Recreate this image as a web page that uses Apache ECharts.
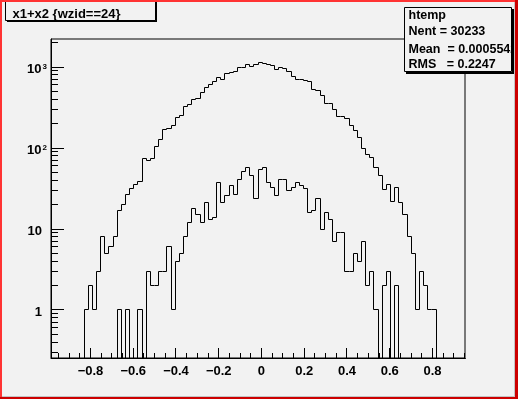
<!DOCTYPE html>
<html><head><meta charset="utf-8">
<script src="https://cdn.jsdelivr.net/npm/echarts@6/dist/echarts.min.js"></script>
<style>html,body{margin:0;padding:0;background:#f2f2f2;overflow:hidden}#c{width:518px;height:399px}</style>
</head><body><div id="c"></div>
<script>
// ---- data (100 bins) ----
const binCountsAll = [
  0,0,0,0,0,0,0,0,1,2,
  1,3,8,5,6,8,17,20,27,32,
  35,39,74,71,75,103,129,167,175,187,
  235,255,321,340,392,414,478,566,600,665,
  745,711,820,844,868,1000,1000,1078,1010,1069,
  1142,1099,1069,1038,927,1000,953,868,774,711,
  711,678,659,525,506,439,359,359,295,248,
  248,230,187,164,133,100,84,77,58,46,
  31,35,22,33,21,15,8,5,1,3,
  2,1,1,0,0,0,0,0,0,0
];
const binCountsWz = [
  0,0,0,0,0,0,0,0,0,0,
  0,0,0,0,0,0,1,0,1,0,
  0,1,0,3,2,2,3,3,6,1,
  4,5,8,12,18,15,12,21,13,14,
  38,21,26,34,27,41,51,57,46,24,
  54,57,38,33,26,41,41,30,33,38,
  34,32,16,17,24,10,16,13,7,9,
  9,3,3,5,4,7,2,3,1,0,
  2,3,0,2,0,0,0,0,0,0,
  0,0,0,0,0,0,0,0,0,0
];
const xTickMajor = [-0.8,-0.6,-0.4,-0.2,0,0.2,0.4,0.6,0.8];
const xTickMinor = [-0.95,-0.9,-0.85,-0.75,-0.7,-0.65,-0.55,-0.5,-0.45,-0.35,-0.3,-0.25,-0.15,-0.1,-0.05,
                    0.05,0.1,0.15,0.25,0.3,0.35,0.45,0.5,0.55,0.65,0.7,0.75,0.85,0.9,0.95];
const yTickMajor = [1,10,100,1000];
const yTickMinor = [0.3,0.4,0.5,0.6,0.7,0.8,0.9,2,3,4,5,6,7,8,9,20,30,40,50,60,70,80,90,
                    200,300,400,500,600,700,800,900,2000];
const titleText = 'x1+x2 {wzid==24}';
const statsTitle = 'htemp';
const statsLines = ['Nent = 30233', 'Mean  = 0.0005542', 'RMS   = 0.2247'];
const X_MIN = -0.9846, X_MAX = 0.9522, NBINS = 100;
const Y_MIN = 0.2555, Y_MAX = 2217;

// ---- styling ----
const FONT = '"Liberation Sans", Arial, Helvetica, sans-serif';
const BG = '#f2f2f2';
function snap(v){ return Math.floor(v) + 0.5; }

function histSeries(counts){
  const w = (X_MAX - X_MIN) / NBINS;
  const data = counts.map((c, i) => [
    X_MIN + i * w,
    Math.max(c, Y_MIN),
    Math.max(i > 0 ? counts[i - 1] : 0, Y_MIN),
    X_MIN + (i + 1) * w,
    i === counts.length - 1 ? 1 : 0
  ]);
  return {
    type: 'custom', coordinateSystem: 'cartesian2d', silent: true, clip: false, z: 3,
    data: data,
    renderItem: function(params, api){
      const l = api.coord([api.value(0), api.value(1)]);
      const r = api.coord([api.value(3), api.value(1)]);
      const pv = api.coord([api.value(0), api.value(2)]);
      const pts = [[snap(l[0]), snap(pv[1])], [snap(l[0]), snap(l[1])], [snap(r[0]), snap(l[1])]];
      if (api.value(4)) {
        const b = api.coord([api.value(3), Y_MIN]);
        pts.push([snap(r[0]), snap(b[1])]);
      }
      return {type: 'polyline', shape: {points: pts}, style: {stroke: '#000', fill: 'none', lineWidth: 1}};
    }
  };
}

function tickSeries(values, isX, len){
  const data = values.map(v => isX ? [v, Y_MIN] : [X_MIN, v]);
  return {
    type: 'custom', coordinateSystem: 'cartesian2d', silent: true, clip: false, z: 4,
    data: data,
    renderItem: function(params, api){
      const p = api.coord([api.value(0), api.value(1)]);
      let shape;
      if (isX) {
        const x = snap(p[0]), y = Math.round(p[1]);
        shape = {x1: x, y1: y, x2: x, y2: y - len};
      } else {
        const x = Math.round(p[0]), y = snap(p[1]);
        shape = {x1: x, y1: y, x2: x + len, y2: y};
      }
      return {type: 'line', shape: shape, style: {stroke: '#000', lineWidth: 1}};
    }
  };
}

function fmtX(v){
  if (Math.abs(v) < 1e-9) return '0';
  return (v < 0 ? '\u2212' : '') + Math.abs(v).toFixed(1);
}
function fmtY(v){
  const e = Math.round(Math.log10(v));
  if (e >= 2) return '10{s|' + e + '}';
  return (e === 1 ? '10' : '1') + '{sp| }';
}

function txt(x, y, text, size, z){
  return {type: 'text', z: z, silent: true, x: x, y: y,
    style: {text: text, fill: '#000', font: 'bold ' + size + 'px ' + FONT,
            align: 'left', verticalAlign: 'middle', textAlign: 'left', textVerticalAlign: 'middle'}};
}
function box(x, y, w, h, style, z){
  return {type: 'rect', z: z, silent: true, shape: {x: x, y: y, width: w, height: h}, style: style};
}

const graphics = [
  // title box
  box(7, -2, 150, 24, {fill: '#000'}, 100),
  box(5.5, -2.5, 150, 23, {fill: BG, stroke: '#000', lineWidth: 1}, 101),
  txt(12.5, 14, titleText, 13, 102),
  // stats box
  box(404.5, 7.5, 107, 64, {fill: BG}, 100),
  txt(408.5, 15.5, statsTitle, 12.5, 102),
  txt(408.5, 31.8, statsLines[0], 12.5, 102),
  txt(408.5, 49.2, statsLines[1], 12.5, 102),
  txt(408.5, 64.2, statsLines[2], 12.5, 102),
  box(512, 9, 2, 65, {fill: '#000'}, 103),
  box(406, 72, 108, 2, {fill: '#000'}, 103),
  box(404.5, 7.5, 107, 64, {fill: 'none', stroke: '#000', lineWidth: 1}, 104),
  box(514, 0, 4, 399, {fill: BG}, 105),
  // canvas bevel
  box(0, 0, 518, 2, {fill: '#ff3333'}, 110),
  box(0, 0, 2, 399, {fill: '#ff3333'}, 110),
  box(2, 396, 513, 1, {fill: '#c4c4c4'}, 110),
  box(514, 2, 1, 395, {fill: '#c4c4c4'}, 110),
  box(0, 397, 518, 2, {fill: '#cc0000'}, 111),
  box(515, 0, 3, 399, {fill: '#cc0000'}, 111)
];

const labelBase = {color: '#000', fontFamily: FONT, fontWeight: 'bold', fontSize: 13};

const option = {
  animation: false,
  backgroundColor: BG,
  grid: {left: 51, top: 39, width: 414, height: 319, show: true, borderColor: '#000', borderWidth: 1,
         backgroundColor: 'transparent', containLabel: false, outerBoundsMode: 'none'},
  xAxis: {
    type: 'value', min: X_MIN, max: X_MAX,
    axisLine: {show: true, onZero: false, lineStyle: {color: '#000', width: 1}},
    axisTick: {show: false}, splitLine: {show: false},
    axisLabel: Object.assign({customValues: xTickMajor, formatter: fmtX, margin: 7}, labelBase)
  },
  yAxis: {
    type: 'log', logBase: 10, min: Y_MIN, max: Y_MAX,
    axisLine: {show: true, onZero: false, lineStyle: {color: '#000', width: 1}},
    axisTick: {show: false}, splitLine: {show: false}, minorTick: {show: false},
    axisLabel: Object.assign({customValues: yTickMajor, formatter: fmtY, margin: 4, padding: [4, 0, 0, 0],
      rich: {
        s: {fontFamily: FONT, fontWeight: 'bold', fontSize: 8, color: '#000', verticalAlign: 'top', padding: [0, 0, 0, 1]},
        sp: {fontFamily: FONT, fontSize: 8, width: 5}
      }}, labelBase)
  },
  series: [
    histSeries(binCountsAll),
    histSeries(binCountsWz),
    tickSeries(xTickMajor, true, 10),
    tickSeries(xTickMinor, true, 5),
    tickSeries(yTickMajor, false, 13),
    tickSeries(yTickMinor, false, 7)
  ],
  graphic: {elements: graphics}
};

const chart = echarts.init(document.getElementById('c'), null, {renderer: 'canvas'});
chart.setOption(option);
</script>
</body></html>
